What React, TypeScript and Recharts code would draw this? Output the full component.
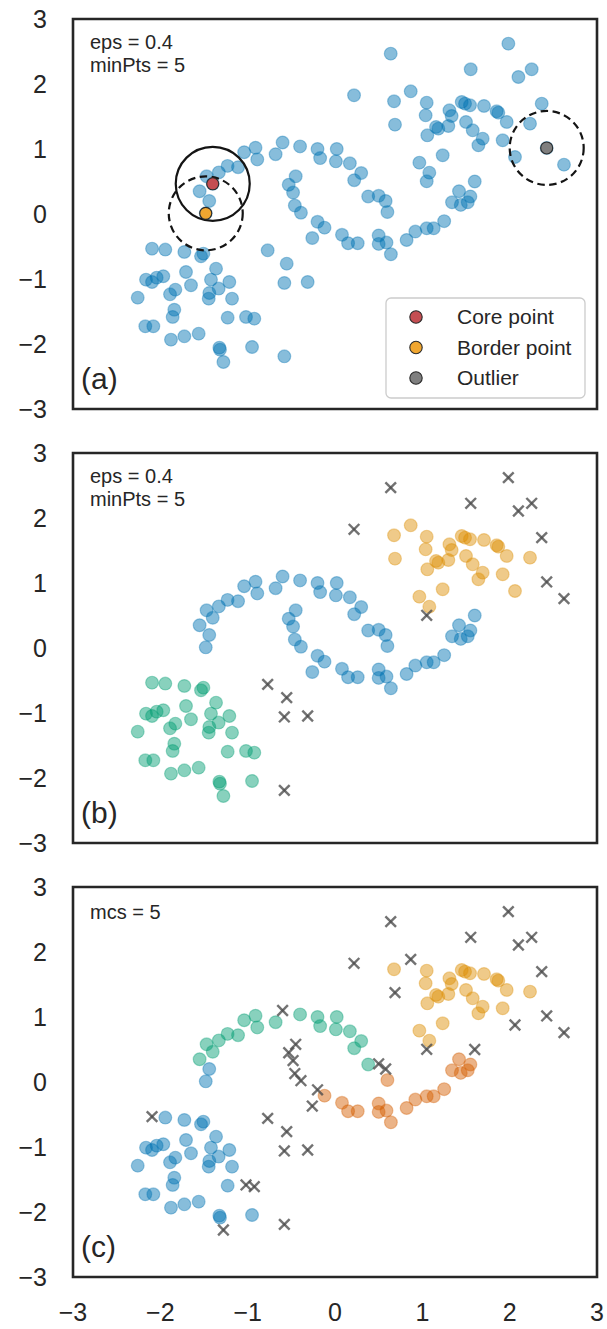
import React from "react";
import { ScatterChart, Scatter, XAxis, YAxis, ReferenceArea } from "recharts";

const FONT = '"Liberation Sans", Arial, Helvetica, sans-serif';
const INK = "#262626";

const tickValues = [-3, -2, -1, 0, 1, 2, 3];

// x, y of every sample (same data set in all three panels)
const pointX = [
  // blob
  -1.943, -1.725, -1.534, -1.507, -1.362, -1.706, -2.164, -2.095, -2.042, -1.966,
  -1.649, -1.42, -1.21, -1.332, -1.439, -1.446, -1.889, -1.828, -2.259, -1.179,
  -1.84, -1.859, -1.229, -2.172, -2.08, -1.878, -1.725, -1.561, -1.324, -1.317,
  -0.95, -2.095, -1.019, -0.924, -1.278,
  // left moon
  -1.47, -1.4, -1.55, -1.44, -1.48, -1.33, -1.23, -1.11, -1.04, -0.91,
  -0.89, -0.68, -0.4, -0.2, -0.17, 0.02, 0.01, 0.17, 0.3, 0.22, 0.38,
  // centre
  -0.6, -0.45, -0.53, -0.48, -0.46, -0.39, -0.2, -0.12, -0.26, 0.5, 0.58, 1.6,
  // lower right moon
  0.6, 0.08, 0.15, 0.26, 0.5, 0.5, 0.59, 0.64, 0.82, 0.92, 1.05, 1.13, 1.25,
  1.42, 1.34, 1.44, 1.52, 1.55,
  // upper right group
  0.676, 1.05, 1.038, 1.31, 1.336, 1.451, 1.489, 1.546, 1.706, 1.851,
  1.87, 1.966, 2.233, 1.5, 1.577, 1.691, 1.642, 1.92, 1.157, 1.183,
  1.298, 1.057, 1.233, 0.966, 1.08, 0.867, 0.687, 2.061,
  // scattered noise
  0.638, 1.985, 1.554, 2.1, 2.252, 0.218, 2.367, 2.424, 2.622, 1.05,
  -0.771, -0.553, -0.58, -0.313, -0.58,
];

const pointY = [
  -0.548, -0.584, -0.651, -0.61, -0.841, -0.892, -1.01, -1.046, -0.979, -0.958,
  -1.097, -1.01, -1.046, -1.148, -1.215, -1.302, -1.236, -1.164, -1.287, -1.302,
  -1.472, -1.584, -1.595, -1.728, -1.728, -1.933, -1.882, -1.841, -2.056, -2.087,
  -2.046, -0.533, -1.584, -1.61, -2.277,
  0.58, 0.465, 0.35, 0.2, 0.01, 0.64, 0.74, 0.72, 0.95, 1.02,
  0.84, 0.92, 1.04, 1.0, 0.86, 1.0, 0.81, 0.78, 0.63, 0.52, 0.27,
  1.1, 0.58, 0.45, 0.33, 0.13, 0.02, -0.12, -0.21, -0.37, 0.28, 0.2, 0.5,
  0.03, -0.32, -0.45, -0.45, -0.33, -0.46, -0.44, -0.62, -0.4, -0.27, -0.22, -0.22, -0.11,
  0.35, 0.18, 0.14, 0.18, 0.27,
  1.734, 1.713, 1.518, 1.595, 1.508, 1.723, 1.698, 1.672, 1.662, 1.58,
  1.559, 1.416, 1.39, 1.416, 1.287, 1.159, 1.057, 1.134, 1.339, 1.313,
  1.354, 1.21, 0.903, 0.79, 0.636, 1.887, 1.375, 0.877,
  2.467, 2.621, 2.226, 2.108, 2.226, 1.826, 1.698, 1.016, 0.759, 0.503,
  -0.559, -0.764, -1.061, -1.046, -2.19,
];

// DBSCAN labels (panel b): 0 blue, 1 orange, 2 green, -1 noise
const dbscanLabel = [
  2, 2, 2, 2, 2, 2, 2, 2, 2, 2, 2, 2, 2, 2, 2, 2, 2, 2, 2, 2, 2, 2, 2, 2, 2, 2, 2, 2, 2, 2, 2, 2, 2, 2, 2,
  0, 0, 0, 0, 0, 0, 0, 0, 0, 0, 0, 0, 0, 0, 0, 0, 0, 0, 0, 0, 0,
  0, 0, 0, 0, 0, 0, 0, 0, 0, 0, 0, 0,
  0, 0, 0, 0, 0, 0, 0, 0, 0, 0, 0, 0, 0, 0, 0, 0, 0, 0,
  1, 1, 1, 1, 1, 1, 1, 1, 1, 1, 1, 1, 1, 1, 1, 1, 1, 1, 1, 1, 1, 1, 1, 1, 1, 1, 1, 1,
  -1, -1, -1, -1, -1, -1, -1, -1, -1, -1, -1, -1, -1, -1, -1,
];

// HDBSCAN labels (panel c): 0 blue, 1 green, 2 vermilion, 3 orange, -1 noise
const hdbscanLabel = [
  0, 0, 0, 0, 0, 0, 0, 0, 0, 0, 0, 0, 0, 0, 0, 0, 0, 0, 0, 0, 0, 0, 0, 0, 0, 0, 0, 0, 0, 0, 0, -1, -1, -1, -1,
  1, 1, 1, 0, 0, 1, 1, 1, 1, 1, 1, 1, 1, 1, 1, 1, 1, 1, 1, 1, 1,
  -1, -1, -1, -1, -1, -1, -1, 2, -1, -1, -1, -1,
  2, 2, 2, 2, 2, 2, 2, 2, 2, 2, 2, 2, 2, 2, 2, 2, 2, 2,
  3, 3, 3, 3, 3, 3, 3, 3, 3, 3, 3, 3, 3, 3, 3, 3, 3, 3, 3, 3, 3, 3, 3, 3, 3, -1, -1, -1,
  -1, -1, -1, -1, -1, -1, -1, -1, -1, -1, -1, -1, -1, -1, -1,
];

const dbscanColors: Record<number, string> = { 0: "#0173B2", 1: "#DE8F05", 2: "#029E73" };
const hdbscanColors: Record<number, string> = { 0: "#0173B2", 1: "#029E73", 2: "#D55E00", 3: "#DE8F05" };

const legendLabels = ["Core point", "Border point", "Outlier"];
const legendColors = ["#C44E52", "#F0A630", "#7F7F7F"];
const paramTextB = ["eps = 0.4", "minPts = 5"];
const paramTextC = ["mcs = 5"];
const panelTags = ["(a)", "(b)", "(c)"];

const points = pointX.map((x, i) => ({ x, y: pointY[i], b: dbscanLabel[i], c: hdbscanLabel[i] }));
const findPt = (x: number, y: number) => points.filter((p) => p.x === x && p.y === y);
const corePts = findPt(-1.4, 0.465);
const borderPts = findPt(-1.48, 0.01);
const outlierPts = findPt(2.424, 1.016);

const fmt = (v: number) => (v < 0 ? "\u2212" + Math.abs(v) : String(v));

const makeDot = (color: string) => (p: any) => (
  <circle cx={p.cx} cy={p.cy} r={6.4} fill={color} fillOpacity={0.47} stroke={color} strokeOpacity={0.35} strokeWidth={1.2} />
);

const crossShape = (p: any) => {
  const s = 5.3;
  return (
    <g stroke="#4a4a4a" strokeOpacity={0.78} strokeWidth={2.4}>
      <line x1={p.cx - s} y1={p.cy - s} x2={p.cx + s} y2={p.cy + s} />
      <line x1={p.cx - s} y1={p.cy + s} x2={p.cx + s} y2={p.cy - s} />
    </g>
  );
};

const ringShape = (dashed: boolean) => (p: any) => (
  <circle cx={p.cx} cy={p.cy} r={37} fill="none" stroke="#141414" strokeWidth={2.2} strokeDasharray={dashed ? "7.5 4.5" : undefined} />
);

const solidDot = (color: string) => (p: any) => (
  <circle cx={p.cx} cy={p.cy} r={6} fill={color} stroke="#2a2a2a" strokeWidth={1.1} />
);

const tickStyle = { fill: INK, fontSize: 25, fontFamily: FONT };

function Panel({ top, height, showX, children }: { top: number; height: number; showX: boolean; children: any }) {
  return (
    <div style={{ position: "absolute", left: 0, top }}>
      <ScatterChart width={607} height={height} margin={{ top: 19, right: 10, bottom: showX ? 10 : 21, left: 0 }}>
        <XAxis
          type="number"
          dataKey="x"
          domain={[-3, 3]}
          ticks={tickValues}
          interval={0}
          hide={!showX}
          height={42}
          axisLine={false}
          tickLine={false}
          tickSize={6}
          tickMargin={20}
          tick={tickStyle}
          tickFormatter={fmt}
        />
        <YAxis
          type="number"
          dataKey="y"
          domain={[-3, 3]}
          ticks={tickValues}
          interval={0}
          width={73}
          axisLine={false}
          tickLine={false}
          tickSize={6}
          tickMargin={20}
          tick={tickStyle}
          tickFormatter={fmt}
        />
        {children}
        <ReferenceArea x1={-3} x2={3} y1={-3} y2={3} fill="none" fillOpacity={0} stroke={INK} strokeWidth={2.6} />
      </ScatterChart>
    </div>
  );
}

export default function App() {
  const clustersB = [2, 0, 1];
  const clustersC = [0, 1, 2, 3];
  const panelA = [
    <Scatter key="all" data={points} shape={makeDot("#0173B2")} isAnimationActive={false} />,
    <Scatter key="ringCore" data={corePts} shape={ringShape(false)} isAnimationActive={false} />,
    <Scatter key="ringBorder" data={borderPts} shape={ringShape(true)} isAnimationActive={false} />,
    <Scatter key="ringOut" data={outlierPts} shape={ringShape(true)} isAnimationActive={false} />,
    <Scatter key="core" data={corePts} shape={solidDot(legendColors[0])} isAnimationActive={false} />,
    <Scatter key="border" data={borderPts} shape={solidDot(legendColors[1])} isAnimationActive={false} />,
    <Scatter key="out" data={outlierPts} shape={solidDot(legendColors[2])} isAnimationActive={false} />,
  ];
  const panelB = [
    ...clustersB.map((k) => (
      <Scatter key={"b" + k} data={points.filter((p) => p.b === k)} shape={makeDot(dbscanColors[k])} isAnimationActive={false} />
    )),
    <Scatter key="bn" data={points.filter((p) => p.b === -1)} shape={crossShape} isAnimationActive={false} />,
  ];
  const panelC = [
    ...clustersC.map((k) => (
      <Scatter key={"c" + k} data={points.filter((p) => p.c === k)} shape={makeDot(hdbscanColors[k])} isAnimationActive={false} />
    )),
    <Scatter key="cn" data={points.filter((p) => p.c === -1)} shape={crossShape} isAnimationActive={false} />,
  ];

  const plotTops = [19, 453, 887];
  const textStyle = { fontFamily: FONT, fill: INK };

  return (
    <div style={{ position: "absolute", left: 0, top: 0, width: 607, height: 1329, background: "#fff" }}>
      <Panel top={0} height={430} showX={false}>{panelA}</Panel>
      <Panel top={434} height={430} showX={false}>{panelB}</Panel>
      <Panel top={868} height={461} showX={true}>{panelC}</Panel>
      <svg width={607} height={1329} style={{ position: "absolute", left: 0, top: 0, pointerEvents: "none" }}>
        {paramTextB.map((t, i) => (
          <text key={"pa" + i} x={90} y={plotTops[0] + 30 + i * 23} fontSize={20} {...textStyle}>{t}</text>
        ))}
        {paramTextB.map((t, i) => (
          <text key={"pb" + i} x={90} y={plotTops[1] + 30 + i * 23} fontSize={20} {...textStyle}>{t}</text>
        ))}
        {paramTextC.map((t, i) => (
          <text key={"pc" + i} x={90} y={plotTops[2] + 32 + i * 23} fontSize={20} {...textStyle}>{t}</text>
        ))}
        {panelTags.map((t, i) => (
          <text key={"tag" + i} x={81} y={plotTops[i] + 390 - 20} fontSize={30} {...textStyle}>{t}</text>
        ))}
        <rect x={386} y={298} width={199} height={100} rx={5} fill="#fff" fillOpacity={0.85} stroke="#cccccc" strokeWidth={1.3} />
        {legendLabels.map((t, i) => (
          <g key={"lg" + i}>
            <circle cx={416} cy={317 + i * 30.5} r={6.2} fill={legendColors[i]} stroke="#2a2a2a" strokeWidth={1.1} />
            <text x={457} y={324 + i * 30.5} fontSize={21} {...textStyle}>{t}</text>
          </g>
        ))}
      </svg>
    </div>
  );
}
